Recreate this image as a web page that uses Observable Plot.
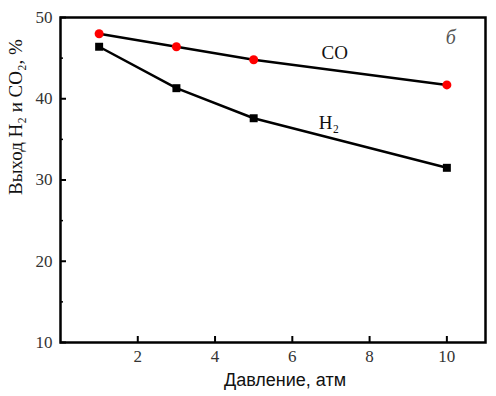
<!DOCTYPE html>
<html><head><meta charset="utf-8">
<script src="https://cdn.jsdelivr.net/npm/d3@7"></script>
<script src="https://cdn.jsdelivr.net/npm/@observablehq/plot@0.6"></script>
<style>body{margin:0;background:#fff}</style>
</head><body><div id="chart"></div>
<script>
const pressure = [1, 3, 5, 10];
const coYield = [48.0, 46.4, 44.8, 41.7];
const h2Yield = [46.4, 41.3, 37.6, 31.5];
const xTicks = [2, 4, 6, 8, 10];
const yTicks = [10, 20, 30, 40, 50];
const yMinor = [15, 25, 35, 45];
const seriesLabels = [
  {text: "CO", x: 7.1, y: 45.6},
  {text: "H₂", x: 6.95, y: 37.0}
];
const panelLabel = [{text: "б", x: 10.1, y: 47.5}];

const co = pressure.map((p, i) => ({x: p, y: coYield[i]}));
const h2 = pressure.map((p, i) => ({x: p, y: h2Yield[i]}));
const serif = "Liberation Serif, serif";

const chart = Plot.plot({
  width: 496, height: 396,
  marginLeft: 60, marginRight: 11, marginTop: 17, marginBottom: 54,
  x: {domain: [0, 11]},
  y: {domain: [10, 50]},
  style: {fontFamily: serif, fontSize: "15px", color: "#222", background: "#fff"},
  marks: [
    Plot.axisY({ticks: yTicks, tickSize: 6, dx: 6, text: null, label: null, strokeWidth: 2, stroke: "#000"}),
    Plot.axisY({ticks: yMinor, tickSize: 3, dx: 3, text: null, label: null, strokeWidth: 1.5, stroke: "#000"}),
    Plot.text(yTicks, {y: d => d, frameAnchor: "left", dx: -8, textAnchor: "end",
      fontFamily: serif, fontSize: 17, fill: "#333"}),
    Plot.text(["Выход H₂ и CO₂, %"], {frameAnchor: "left", dx: -45, dy: 15, rotate: -90,
      fontFamily: serif, fontSize: 19, fill: "#111"}),
    Plot.axisX({ticks: xTicks, tickSize: 6, dy: -6, text: null, label: null, strokeWidth: 2, stroke: "#000"}),
    Plot.text(xTicks, {x: d => d, frameAnchor: "bottom", dy: 19,
      fontFamily: serif, fontSize: 17, fill: "#333"}),
    Plot.text(["Давление, атм"], {frameAnchor: "bottom", dx: 12, dy: 43, fontFamily: "Liberation Sans, sans-serif", fontSize: 18, fill: "#111"}),
    Plot.frame({stroke: "#000", strokeWidth: 2.5}),
    Plot.line(co, {x: "x", y: "y", stroke: "#000", strokeWidth: 2.5}),
    Plot.line(h2, {x: "x", y: "y", stroke: "#000", strokeWidth: 2.5}),
    Plot.dot(co, {x: "x", y: "y", r: 4.5, fill: "#ff0000", stroke: null}),
    Plot.dot(h2, {x: "x", y: "y", r: 4.5, symbol: "square", fill: "#000", stroke: null}),
    Plot.text(seriesLabels, {x: "x", y: "y", text: "text", fontFamily: serif, fontSize: 19, fill: "#111"}),
    Plot.text(panelLabel, {x: "x", y: "y", text: "text", fontFamily: serif, fontSize: 20, fontStyle: "italic", fill: "#555"})
  ]
});
document.getElementById("chart").appendChild(chart);
</script>
</body></html>
